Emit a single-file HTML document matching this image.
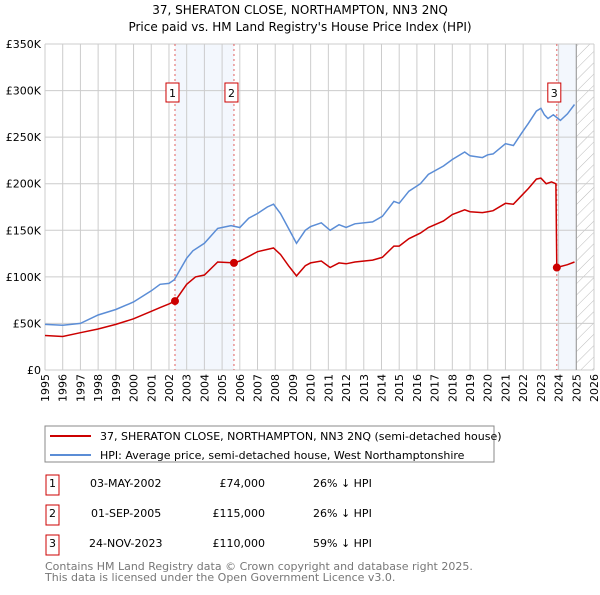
<!DOCTYPE html>
<html><head><meta charset="utf-8"><style>
body{margin:0;background:#fff;font-family:"Liberation Sans","DejaVu Sans",sans-serif;}
svg text{font-family:"DejaVu Sans","Liberation Sans",sans-serif;}
</style></head><body>
<svg id="c" width="600" height="590" xmlns="http://www.w3.org/2000/svg">
<defs><pattern id="h" width="8" height="8" patternUnits="userSpaceOnUse" patternTransform="rotate(45)"><line x1="0" y1="0" x2="0" y2="8" stroke="#bbb" stroke-width="1"/></pattern></defs>
<text x="300" y="14" text-anchor="middle" font-size="12">37, SHERATON CLOSE, NORTHAMPTON, NN3 2NQ</text>
<text x="300" y="31" text-anchor="middle" font-size="12">Price paid vs. HM Land Registry's House Price Index (HPI)</text>
<g id="plot"></g>
<rect x="45" y="426" width="449" height="36" fill="#fff" stroke="#888"/>
<line x1="50" y1="436" x2="91" y2="436" stroke="#cc0000" stroke-width="2"/>
<text x="100" y="440" font-size="11">37, SHERATON CLOSE, NORTHAMPTON, NN3 2NQ (semi-detached house)</text>
<line x1="50" y1="455" x2="91" y2="455" stroke="#5b8dd6" stroke-width="2"/>
<text x="100" y="459" font-size="11">HPI: Average price, semi-detached house, West Northamptonshire</text>
<g font-size="11">
<rect x="46" y="475" width="13" height="20" fill="none" stroke="#cc0000"/><text x="52.5" y="487" text-anchor="middle">1</text>
<text x="90" y="487">03-MAY-2002</text><text x="265" y="487" text-anchor="end">£74,000</text><text x="313" y="487">26% ↓ HPI</text>
<rect x="46" y="505" width="13" height="20" fill="none" stroke="#cc0000"/><text x="52.5" y="517" text-anchor="middle">2</text>
<text x="91" y="517">01-SEP-2005</text><text x="265" y="517" text-anchor="end">£115,000</text><text x="313" y="517">26% ↓ HPI</text>
<rect x="46" y="535" width="13" height="20" fill="none" stroke="#cc0000"/><text x="52.5" y="547" text-anchor="middle">3</text>
<text x="89" y="547">24-NOV-2023</text><text x="265" y="547" text-anchor="end">£110,000</text><text x="313" y="547">59% ↓ HPI</text>
</g>
<text x="45" y="570" font-size="11" fill="#777">Contains HM Land Registry data © Crown copyright and database right 2025.</text>
<text x="45" y="581" font-size="11" fill="#777">This data is licensed under the Open Government Licence v3.0.</text>
</svg>
<script>
const hpiYears=[1995,1996,1997,1998,1999,2000,2001,2001.5,2002,2002.3,2003,2003.35,2004,2004.75,2005,2005.5,2006,2006.5,2007,2007.55,2007.9,2008.3,2008.75,2009.2,2009.7,2010,2010.6,2011.1,2011.6,2012,2012.5,2013.5,2014.05,2014.7,2015,2015.55,2016.2,2016.65,2017.5,2018,2018.7,2019,2019.7,2020,2020.3,2021,2021.45,2021.9,2022.3,2022.75,2023,2023.2,2023.4,2023.7,2024.1,2024.5,2024.9];
const hpiValues=[49,48,50,59,65,73,85,92,93,97,120,128,136,152,153,155,153,163,168,175,178,168,152,136,150,154,158,150,156,153,157,159,165,181,179,192,200,210,219,226,234,230,228,231,232,243,241,254,265,278,281,274,270,274,268,275,285];
const propYears=[1995,1996,1997,1998,1999,2000,2001,2001.5,2002,2002.34,2003,2003.5,2004,2004.75,2005.67,2006,2006.5,2007,2007.9,2008.3,2008.75,2009.2,2009.7,2010,2010.6,2011.1,2011.6,2012,2012.5,2013.5,2014.05,2014.7,2015,2015.55,2016.2,2016.65,2017.5,2018,2018.7,2019,2019.7,2020,2020.3,2021,2021.45,2021.9,2022.3,2022.75,2023,2023.3,2023.6,2023.85,2023.9,2024.5,2024.9];
const propValues=[37,36,40,44,49,55,63,67,71,74,92,100,102,116,115,117,122,127,131,124,112,101,112,115,117,110,115,114,116,118,121,133,133,141,147,153,160,167,172,170,169,170,171,179,178,187,195,205,206,200,202,200,110,113,116];
const saleYears=[2002.34,2005.67,2023.9];
const saleValues=[74,115,110];
const saleLabels=["1","2","3"];
const yTicks=[0,50,100,150,200,250,300,350];
const yTickLabels=["£0","£50K","£100K","£150K","£200K","£250K","£300K","£350K"];
const xTicks=[1995,1996,1997,1998,1999,2000,2001,2002,2003,2004,2005,2006,2007,2008,2009,2010,2011,2012,2013,2014,2015,2016,2017,2018,2019,2020,2021,2022,2023,2024,2025,2026];
const X0=45,X1=594,Y0=370,Y1=44;
const x=y=>X0+(y-1995)/31*(X1-X0);
const yv=v=>Y0-v/350*(Y0-Y1);
const NS="http://www.w3.org/2000/svg";
const g=document.getElementById('plot');
function mk(t,a){const e=document.createElementNS(NS,t);for(const k in a)e.setAttribute(k,a[k]);g.appendChild(e);return e;}
let e;
e=mk('rect',{x:x(saleYears[0]),y:Y1,width:x(saleYears[1])-x(saleYears[0]),height:Y0-Y1,fill:'#eef3fc',opacity:0.7});


e=mk('rect',{x:x(saleYears[2]),y:Y1,width:x(2025)-x(saleYears[2]),height:Y0-Y1,fill:'#eef3fc',opacity:0.7});


e=mk('rect',{x:x(2025),y:Y1,width:x(2026)-x(2025),height:Y0-Y1,fill:'url(#h)'});


xTicks.forEach(t=>{e=mk('line',{x1:x(t),x2:x(t),y1:Y1,y2:Y0,stroke:'#ccc'});


const tx=x(t)+4,ty=Y0+4;
e=mk('text',{x:tx,y:ty,'text-anchor':'end','font-size':11,transform:'rotate(-90 '+tx+' '+ty+')'});e.textContent=t;

});
yTicks.forEach((t,i)=>{e=mk('line',{x1:X0,x2:X1,y1:yv(t),y2:yv(t),stroke:'#ccc'});


e=mk('text',{x:X0-4,y:yv(t)+4,'text-anchor':'end','font-size':11});e.textContent=yTickLabels[i];

});
e=mk('line',{x1:x(2025),x2:x(2025),y1:Y1,y2:Y0,stroke:'#999'});


saleYears.forEach((s,i)=>{e=mk('line',{x1:x(s),x2:x(s),y1:Y1,y2:Y0,stroke:'#e06060','stroke-dasharray':'2,3'});

});
const pts=(xs,vs)=>xs.map((a,i)=>x(a).toFixed(1)+','+yv(vs[i]).toFixed(1)).join(' ');
e=mk('polyline',{points:pts(hpiYears,hpiValues),fill:'none',stroke:'#5b8dd6','stroke-width':1.5});


e=mk('polyline',{points:pts(propYears,propValues),fill:'none',stroke:'#cc0000','stroke-width':1.5});


saleYears.forEach((s,i)=>{e=mk('circle',{cx:x(s),cy:yv(saleValues[i]),r:4,fill:'#cc0000'});


e=mk('rect',{x:x(s)-9,y:83,width:13,height:19,fill:'#fff',stroke:'#cc0000'});


e=mk('text',{x:x(s)-2.5,y:97,'text-anchor':'middle','font-size':11});e.textContent=saleLabels[i];

});
</script>
</body></html>
